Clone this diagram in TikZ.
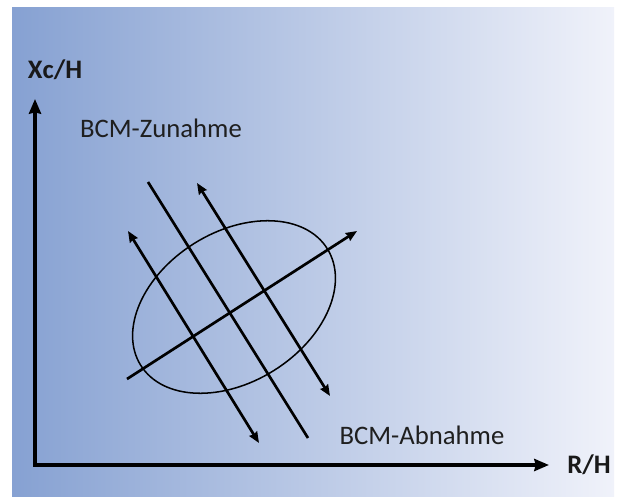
\documentclass[tikz,border=0pt]{standalone}
\usepackage{fontspec}
\setmainfont{Carlito}
\usetikzlibrary{arrows.meta}

\begin{document}
\begin{tikzpicture}[
  x=0.3mm, y=-0.3mm,
  font=\fontsize{22.8}{27}\selectfont,
  ctip/.tip={Stealth[length=3.3mm, width=2.7mm, inset=0.3mm]},
  axis/.style={line width=3.3pt, draw=black,
    -{Stealth[length=4.4mm, width=3.6mm, inset=0.4mm]}},
  trend/.style={line width=2.3pt, draw=black},
  axlabel/.style={font=\fontsize{22.8}{27}\selectfont\bfseries, text=black!90},
  zone/.style={text=black!88, inner sep=0pt}
]

% background
\useasboundingbox (0,0) rectangle (620,497);
\fill[white] (0,0) rectangle (620,497);
\shade[left color={rgb,255:red,134;green,161;blue,210},
  right color={rgb,255:red,240;green,242;blue,250}]
  (12,8) rectangle (614,497);

% axes
\coordinate (origin) at (35,465);
\coordinate (ytip) at (35,99);
\coordinate (xtip) at (549,465);
\draw[axis] (origin) -- (ytip);
\draw[axis, shorten <=-1.6pt] (origin) -- (xtip);

\node[axlabel] (ylab) at (55,70) {Xc/H};
\node[axlabel] (xlab) at (589,465) {R/H};

\node[zone] (zunahme) at (161,128) {BCM-Zunahme};
\node[zone] (abnahme) at (422,435) {BCM-Abnahme};

% ellipse
\coordinate (ctr) at (234,307);
\draw[line width=1.3pt, rotate around={32:(ctr)}]
  (ctr) ellipse [x radius=110, y radius=75];

% lines
\coordinate (l1a) at (128,231);
\coordinate (l1b) at (259,443);
\coordinate (l2a) at (148,182);
\coordinate (l2b) at (308,438);
\coordinate (l3a) at (197,183);
\coordinate (l3b) at (330,396);
\coordinate (da) at (127,379);
\coordinate (db) at (357,231);

\draw[trend, ctip-ctip] (l1a) -- (l1b);
\draw[trend] (l2a) -- (l2b);
\draw[trend, ctip-ctip] (l3a) -- (l3b);
\draw[trend, -ctip] (da) -- (db);

\end{tikzpicture}
\end{document}
